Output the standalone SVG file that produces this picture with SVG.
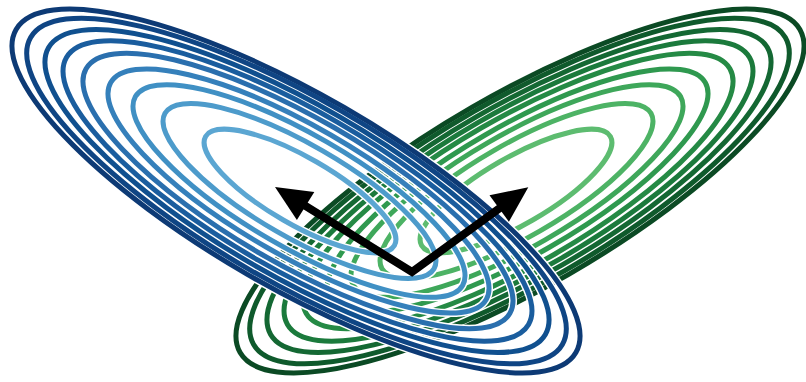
<svg xmlns="http://www.w3.org/2000/svg" width="806" height="382" viewBox="0 0 806 382">
<style>
.c{fill:none;stroke-width:5}
.h{fill:none;stroke:#fff;stroke-width:8}
.arrow-shaft{fill:none;stroke:#000;stroke-width:8;stroke-linejoin:miter}
.arrow-head{fill:#000;stroke:none}
</style>
<rect width="806" height="382" fill="#fff"/>
<g id="green-contours" transform="translate(816,0) scale(-1,1)">
  <ellipse class="c" stroke="#0b4a24" cx="296" cy="191" rx="323.2" ry="96.5" transform="rotate(30 296 191)"/>
  <ellipse class="c" stroke="#0f5a2c" cx="296.5" cy="191" rx="307" ry="91.6" transform="rotate(30 296.5 191)"/>
  <ellipse class="c" stroke="#146833" cx="297" cy="191" rx="286.8" ry="85.6" transform="rotate(30 297 191)"/>
  <ellipse class="c" stroke="#1b7a3c" cx="297.5" cy="191" rx="266.8" ry="79.6" transform="rotate(30 297.5 191)"/>
  <ellipse class="c" stroke="#258a45" cx="298" cy="191" rx="244.7" ry="73" transform="rotate(30 298 191)"/>
  <ellipse class="c" stroke="#2f994f" cx="298.5" cy="191" rx="216.8" ry="64.7" transform="rotate(30 298.5 191)"/>
  <ellipse class="c" stroke="#3ea75a" cx="299" cy="191" rx="188.9" ry="56.4" transform="rotate(30 299 191)"/>
  <ellipse class="c" stroke="#4db365" cx="299.5" cy="191" rx="155.3" ry="46.4" transform="rotate(30 299.5 191)"/>
  <ellipse class="c" stroke="#5dbc70" cx="300" cy="191" rx="109" ry="33.5" transform="rotate(30 300 191)"/>
</g>
<g id="blue-contours">
  <g id="blue-halos">
    <ellipse class="h" cx="296" cy="191" rx="323.2" ry="96.5" transform="rotate(30 296 191)"/>
    <ellipse class="h" cx="296.5" cy="191" rx="307" ry="91.6" transform="rotate(30 296.5 191)"/>
    <ellipse class="h" cx="297" cy="191" rx="286.8" ry="85.6" transform="rotate(30 297 191)"/>
    <ellipse class="h" cx="297.5" cy="191" rx="266.8" ry="79.6" transform="rotate(30 297.5 191)"/>
    <ellipse class="h" cx="298" cy="191" rx="244.7" ry="73" transform="rotate(30 298 191)"/>
    <ellipse class="h" cx="298.5" cy="191" rx="216.8" ry="64.7" transform="rotate(30 298.5 191)"/>
    <ellipse class="h" cx="299" cy="191" rx="188.9" ry="56.4" transform="rotate(30 299 191)"/>
    <ellipse class="h" cx="299.5" cy="191" rx="155.3" ry="46.4" transform="rotate(30 299.5 191)"/>
    <ellipse class="h" cx="300" cy="191" rx="109" ry="33.5" transform="rotate(30 300 191)"/>
  </g>
  <ellipse class="c" stroke="#0d3a75" cx="296" cy="191" rx="323.2" ry="96.5" transform="rotate(30 296 191)"/>
  <ellipse class="c" stroke="#0f4584" cx="296.5" cy="191" rx="307" ry="91.6" transform="rotate(30 296.5 191)"/>
  <ellipse class="c" stroke="#10508f" cx="297" cy="191" rx="286.8" ry="85.6" transform="rotate(30 297 191)"/>
  <ellipse class="c" stroke="#1a5d9e" cx="297.5" cy="191" rx="266.8" ry="79.6" transform="rotate(30 297.5 191)"/>
  <ellipse class="c" stroke="#2a6fae" cx="298" cy="191" rx="244.7" ry="73" transform="rotate(30 298 191)"/>
  <ellipse class="c" stroke="#3580bb" cx="298.5" cy="191" rx="216.8" ry="64.7" transform="rotate(30 298.5 191)"/>
  <ellipse class="c" stroke="#4090c4" cx="299" cy="191" rx="188.9" ry="56.4" transform="rotate(30 299 191)"/>
  <ellipse class="c" stroke="#4d9bcb" cx="299.5" cy="191" rx="155.3" ry="46.4" transform="rotate(30 299.5 191)"/>
  <ellipse class="c" stroke="#5ba6d2" cx="300" cy="191" rx="109" ry="33.5" transform="rotate(30 300 191)"/>
</g>
<g id="arrows">
  <polyline class="arrow-shaft" points="303,204.4 412,272 501.6,206.7"/>
  <polygon class="arrow-head" points="275,187 314.3,192 296.9,220"/>
  <polygon class="arrow-head" points="528.3,187.3 508.9,221.8 489.5,195.2"/>
</g>
</svg>
